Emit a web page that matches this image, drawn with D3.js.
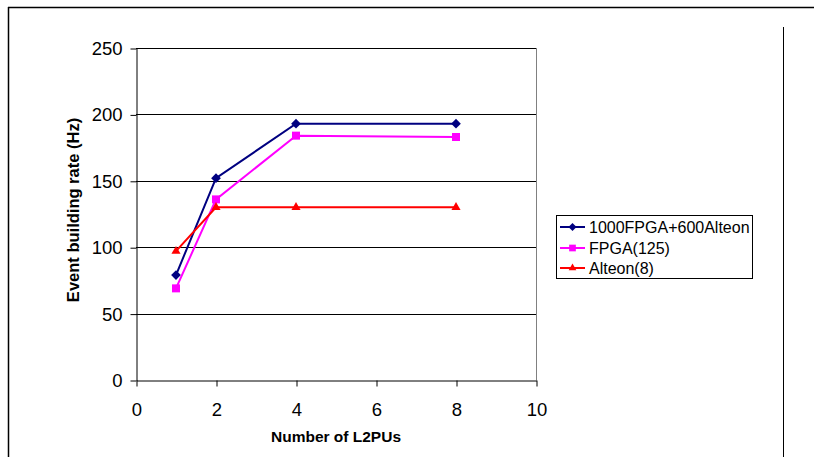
<!DOCTYPE html>
<html><head><meta charset="utf-8">
<script src="https://cdn.jsdelivr.net/npm/d3@7"></script>
<style>body{margin:0;background:#fff}svg{display:block}text{font-family:"Liberation Sans",Arial,sans-serif}</style>
</head><body><svg id="c" width="814" height="457"></svg>
<script>
const xValues = [1, 2, 4, 8];
const seriesNames = ["1000FPGA+600Alteon", "FPGA(125)", "Alteon(8)"];
const series1 = [79, 152, 193, 193];
const series2 = [69, 136, 184, 183];
const series3 = [97, 130, 130, 130];
const xTicks = [0, 2, 4, 6, 8, 10];
const yTicks = [0, 50, 100, 150, 200, 250];
const colors = ["#000080", "#FF00FF", "#FF0000"];
const symbols = [d3.symbolDiamond2 || d3.symbolDiamond, d3.symbolSquare, d3.symbolTriangle];

const svg = d3.select("#c");
svg.append("rect").attr("width",814).attr("height",457).attr("fill","#fff");
// frame
svg.append("line").attr("x1",8).attr("x2",814).attr("y1",7.5).attr("y2",7.5).attr("stroke","#000").attr("stroke-width",1.5);
svg.append("line").attr("x1",8.5).attr("x2",8.5).attr("y1",7).attr("y2",457).attr("stroke","#000").attr("stroke-width",1.5);
svg.append("line").attr("x1",783.5).attr("x2",783.5).attr("y1",27).attr("y2",457).attr("stroke","#000").attr("stroke-width",1);

const x = d3.scaleLinear().domain([0,10]).range([136,536]);
const y = d3.scaleLinear().domain([0,250]).range([380,48]);

// gridlines
svg.append("g").selectAll("line").data(yTicks.filter(t=>t>0)).join("line")
  .attr("x1",136).attr("x2",536).attr("y1",d=>Math.round(y(d))+0.5).attr("y2",d=>Math.round(y(d))+0.5)
  .attr("stroke","#000").attr("stroke-width",1);
svg.append("line").attr("x1",536.5).attr("x2",536.5).attr("y1",48).attr("y2",380).attr("stroke","#808080");

const yAxis = svg.append("g").attr("transform","translate(136.5,0.5)")
  .call(d3.axisLeft(y).tickValues(yTicks).tickSize(6).tickSizeOuter(0).tickPadding(8));
const xAxis = svg.append("g").attr("transform","translate(0.5,380.5)")
  .call(d3.axisBottom(x).tickValues(xTicks).tickSize(6).tickSizeOuter(0).tickPadding(16));
[yAxis,xAxis].forEach(a=>{
  a.select(".domain").attr("stroke","#000");
  a.selectAll(".tick line").attr("stroke","#000");
  a.selectAll(".tick text").attr("font-size",18.5).attr("fill","#000").style("font-family","'Liberation Sans',Arial,sans-serif");
});

svg.append("text").attr("x",336).attr("y",442).attr("text-anchor","middle")
  .attr("font-size",15.5).attr("font-weight","bold").text("Number of L2PUs");
svg.append("text").attr("transform","translate(79,210) rotate(-90)").attr("text-anchor","middle")
  .attr("font-size",16.5).attr("font-weight","bold").text("Event building rate (Hz)");

const allSeries = [series1, series2, series3];
const line = d3.line().x((d,i)=>x(xValues[i])).y(d=>y(d));
const sizes = [60, 64, 36];
allSeries.forEach((s,k)=>{
  svg.append("path").datum(s).attr("d",line).attr("fill","none").attr("stroke",colors[k]).attr("stroke-width",2);
  svg.append("g").selectAll("path").data(s).join("path")
    .attr("transform",(d,i)=>`translate(${x(xValues[i])},${y(d)})`)
    .attr("d",d3.symbol().type(symbols[k]).size(sizes[k])).attr("fill",colors[k]);
});

// legend
const lg = svg.append("g");
lg.append("rect").attr("x",556.5).attr("y",215.5).attr("width",196).attr("height",63).attr("fill","#fff").attr("stroke","#000");
const ly = [227, 248, 268];
seriesNames.forEach((n,k)=>{
  lg.append("line").attr("x1",560).attr("x2",585).attr("y1",ly[k]).attr("y2",ly[k]).attr("stroke",colors[k]).attr("stroke-width",2);
  lg.append("path").attr("transform",`translate(572.5,${ly[k]})`).attr("d",d3.symbol().type(symbols[k]).size(sizes[k]*0.7)).attr("fill",colors[k]);
  lg.append("text").attr("x",589).attr("y",ly[k]).attr("dy","0.36em").attr("font-size",16).text(n);
});
</script></body></html>
